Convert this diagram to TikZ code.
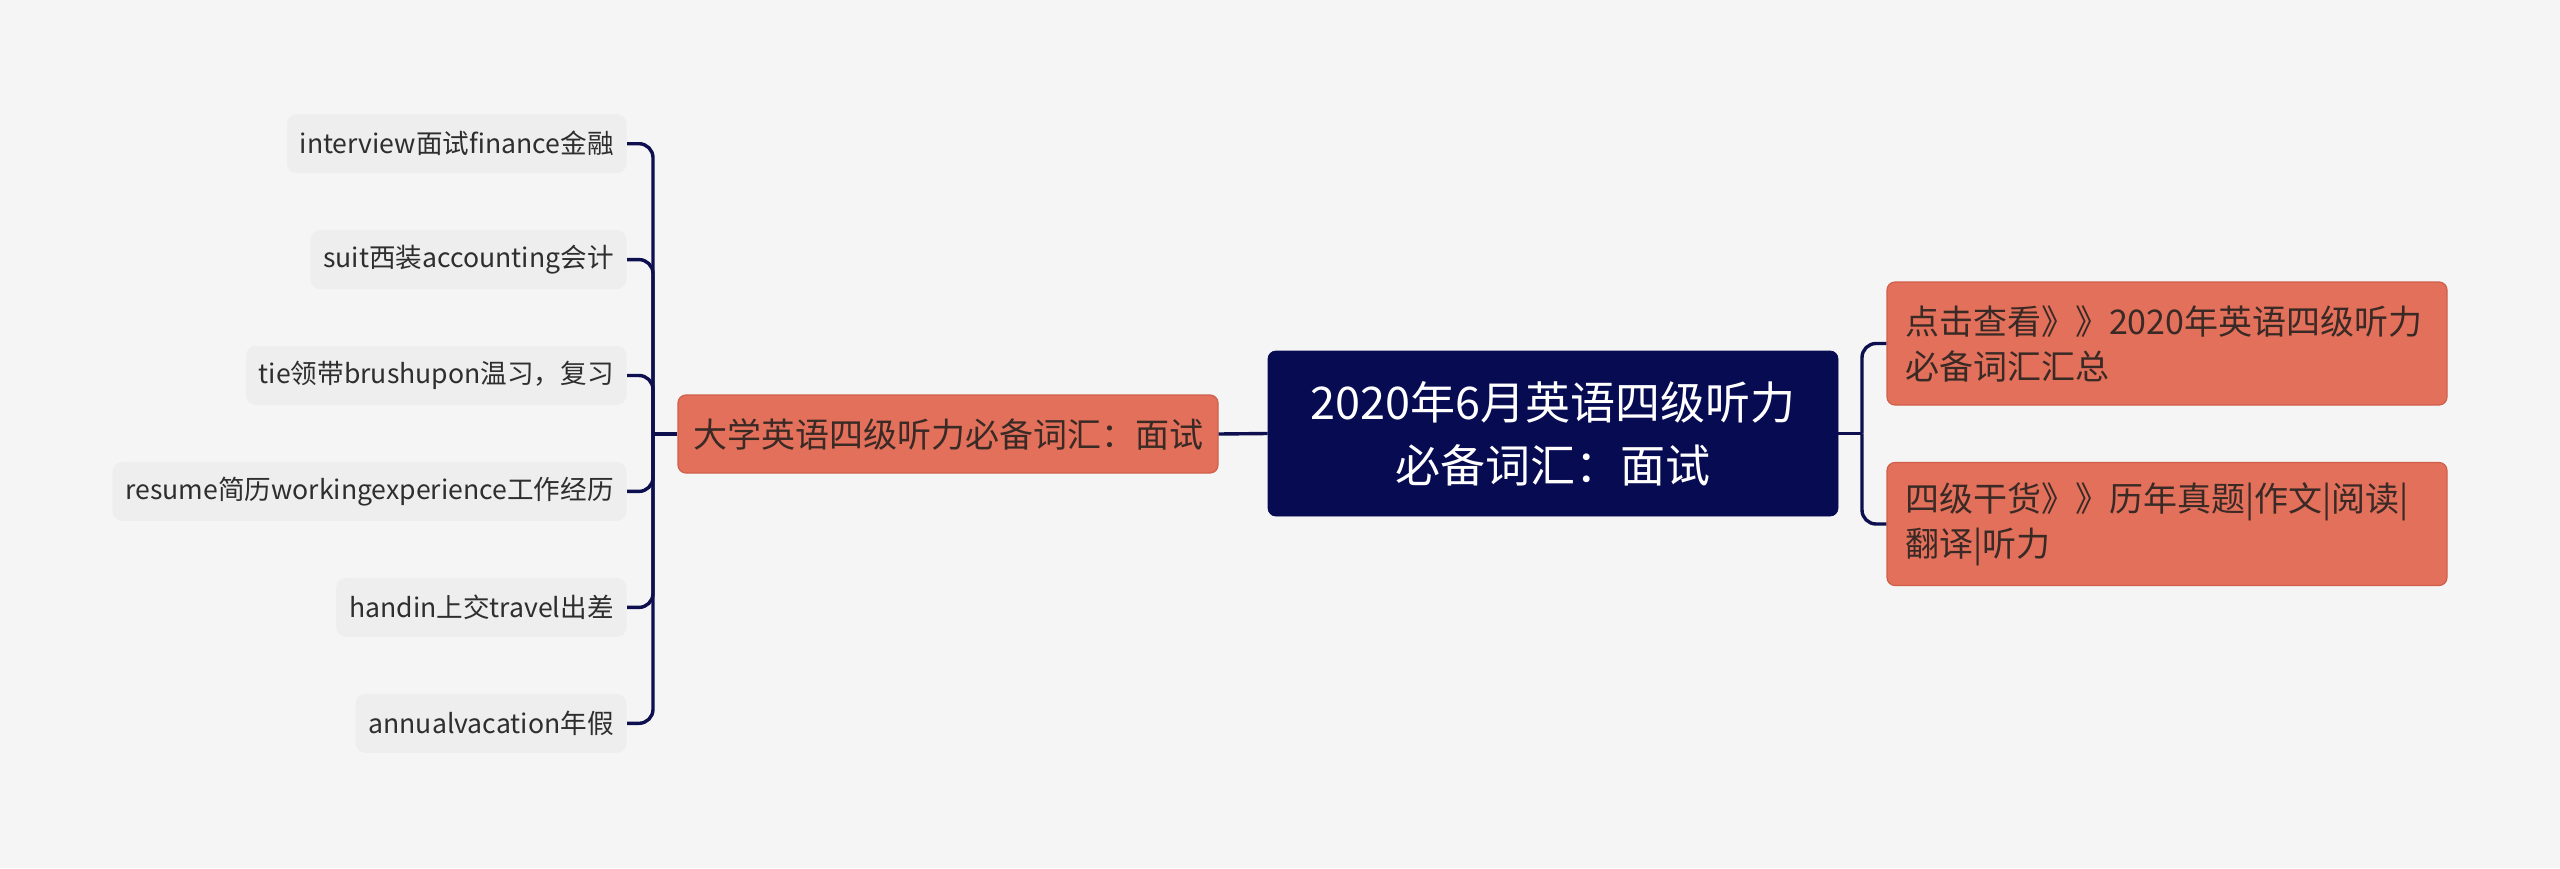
\documentclass[tikz,border=0pt]{standalone}
\usepackage{fontspec}
\setmainfont{Noto Sans CJK SC}
\definecolor{bg}{HTML}{F5F5F5}
\definecolor{navy}{HTML}{070B52}
\definecolor{orangefill}{HTML}{E3705B}
\definecolor{orangeborder}{HTML}{CF5F4B}
\definecolor{leaffill}{HTML}{EEEEEE}
\definecolor{linecol}{HTML}{0D0F4E}
\definecolor{otext}{HTML}{3A2A26}
\definecolor{ltext}{HTML}{2E2E2E}
\begin{document}
\begin{tikzpicture}[x=0.5pt,y=-0.5pt,
  centralbox/.style={draw=navy, fill=navy, rounded corners=4pt, text=white,
    minimum width=285pt, minimum height=82.5pt, align=center, inner sep=0pt,
    font=\fontsize{22.5}{31.5}\selectfont},
  mainbox/.style={draw=orangeborder, line width=0.6pt, fill=orangefill, rounded corners=4pt, text=otext,
    minimum width=270pt, minimum height=39pt, inner sep=0pt,
    font=\fontsize{17}{22.5}\selectfont},
  rightbox/.style={draw=orangeborder, line width=0.6pt, fill=orangefill, rounded corners=4pt, text=otext,
    minimum width=280pt, minimum height=61.5pt, inner sep=0pt,
    text width=262pt, align=left,
    font=\fontsize{17}{22.5}\selectfont},
  leafbox/.style={fill=leaffill, rounded corners=5pt, text=ltext,
    minimum height=29.5pt, inner xsep=6.5pt, inner ysep=0pt,
    font=\fontsize{13.3}{16}\selectfont},
  conn/.style={draw=linecol, line width=1.7pt},
  bracket/.style={conn, rounded corners=7pt}]
\fill[bg] (0,0) rectangle (2560,868);
\useasboundingbox (0,0) rectangle (2560,868);

\node[centralbox] (center) at (1553,433.5) {2020年6月英语四级听力\\必备词汇：面试};
\node[mainbox] (main) at (948,434) {大学英语四级听力必备词汇：面试};
\node[rightbox] (r1) at (2167,343.5) {点击查看》》2020年英语四级听力\\必备词汇汇总};
\node[rightbox] (r2) at (2167,524) {四级干货》》历年真题|作文|阅读|\\翻译|听力};

\node[leafbox, anchor=east] (l1) at (627,143.7) {interview面试finance金融};
\node[leafbox, anchor=east] (l2) at (627,259.6) {suit西装accounting会计};
\node[leafbox, anchor=east] (l3) at (627,375.5) {tie领带brushupon温习，复习};
\node[leafbox, anchor=east] (l4) at (627,491.4) {resume简历workingexperience工作经历};
\node[leafbox, anchor=east] (l5) at (627,607.4) {handin上交travel出差};
\node[leafbox, anchor=east] (l6) at (627,723.3) {annualvacation年假};

\coordinate (lj) at (653,434);
\coordinate (rj) at (1862,433.5);

\draw[conn] (main.west) -- (lj);
\draw[conn] (center.west) -- (main.east);
\draw[conn] (center.east) -- (rj);
\foreach \n in {l1,l2,l3,l4,l5,l6} {\draw[bracket] (lj) |- (\n.east);}
\foreach \n in {r1,r2} {\draw[bracket] (rj) |- (\n.west);}
\end{tikzpicture}
\end{document}
